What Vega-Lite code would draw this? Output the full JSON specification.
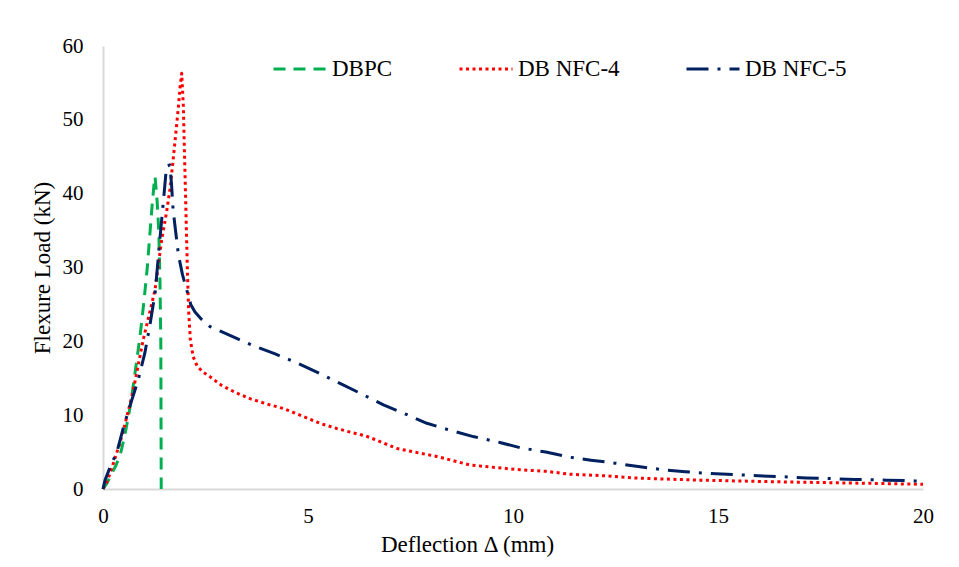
{
  "$schema": "https://vega.github.io/schema/vega-lite/v6.json",
  "width": 820,
  "height": 443,
  "autosize": {"type": "none"},
  "padding": {"left": 103, "top": 46, "right": 36, "bottom": 78},
  "background": "white",
  "config": {
    "view": {"stroke": null},
    "font": "Liberation Serif",
    "legend": {"labelFont": "Liberation Serif", "labelFontSize": 23, "labelColor": "#000000"}
  },
  "data": {
    "values": [
      {"series": "DBPC", "x": 0, "y": 0},
      {"series": "DBPC", "x": 0.1, "y": 0.8},
      {"series": "DBPC", "x": 0.2, "y": 2},
      {"series": "DBPC", "x": 0.3, "y": 3},
      {"series": "DBPC", "x": 0.42, "y": 4.6},
      {"series": "DBPC", "x": 0.52, "y": 7},
      {"series": "DBPC", "x": 0.62, "y": 9.8},
      {"series": "DBPC", "x": 0.7, "y": 12.5},
      {"series": "DBPC", "x": 0.78, "y": 15.7},
      {"series": "DBPC", "x": 0.85, "y": 18.5},
      {"series": "DBPC", "x": 0.92, "y": 21.5},
      {"series": "DBPC", "x": 1.0, "y": 25.5},
      {"series": "DBPC", "x": 1.08, "y": 30},
      {"series": "DBPC", "x": 1.15, "y": 35},
      {"series": "DBPC", "x": 1.2, "y": 38.5},
      {"series": "DBPC", "x": 1.24, "y": 41},
      {"series": "DBPC", "x": 1.27, "y": 42.3},
      {"series": "DBPC", "x": 1.32, "y": 39},
      {"series": "DBPC", "x": 1.36, "y": 35},
      {"series": "DBPC", "x": 1.39, "y": 28},
      {"series": "DBPC", "x": 1.41, "y": 20},
      {"series": "DBPC", "x": 1.42, "y": 0},

      {"series": "DB NFC-4", "x": 0, "y": 0},
      {"series": "DB NFC-4", "x": 0.1, "y": 1},
      {"series": "DB NFC-4", "x": 0.2, "y": 2.6},
      {"series": "DB NFC-4", "x": 0.3, "y": 4.3},
      {"series": "DB NFC-4", "x": 0.4, "y": 6},
      {"series": "DB NFC-4", "x": 0.5, "y": 8},
      {"series": "DB NFC-4", "x": 0.6, "y": 10.2},
      {"series": "DB NFC-4", "x": 0.74, "y": 13.4},
      {"series": "DB NFC-4", "x": 0.86, "y": 16.8},
      {"series": "DB NFC-4", "x": 0.98, "y": 20.2},
      {"series": "DB NFC-4", "x": 1.1, "y": 23},
      {"series": "DB NFC-4", "x": 1.27, "y": 27},
      {"series": "DB NFC-4", "x": 1.43, "y": 33.7},
      {"series": "DB NFC-4", "x": 1.55, "y": 37.5},
      {"series": "DB NFC-4", "x": 1.63, "y": 40.5},
      {"series": "DB NFC-4", "x": 1.7, "y": 44},
      {"series": "DB NFC-4", "x": 1.76, "y": 47.3},
      {"series": "DB NFC-4", "x": 1.84, "y": 51.8},
      {"series": "DB NFC-4", "x": 1.88, "y": 54.5},
      {"series": "DB NFC-4", "x": 1.92, "y": 56.3},
      {"series": "DB NFC-4", "x": 1.96, "y": 51.8},
      {"series": "DB NFC-4", "x": 1.98, "y": 47},
      {"series": "DB NFC-4", "x": 2.0, "y": 42.8},
      {"series": "DB NFC-4", "x": 2.03, "y": 36},
      {"series": "DB NFC-4", "x": 2.06, "y": 29.2},
      {"series": "DB NFC-4", "x": 2.09, "y": 24},
      {"series": "DB NFC-4", "x": 2.13, "y": 20.2},
      {"series": "DB NFC-4", "x": 2.2, "y": 17.9},
      {"series": "DB NFC-4", "x": 2.3, "y": 16.6},
      {"series": "DB NFC-4", "x": 2.45, "y": 15.8},
      {"series": "DB NFC-4", "x": 2.61, "y": 15.2},
      {"series": "DB NFC-4", "x": 2.9, "y": 14},
      {"series": "DB NFC-4", "x": 3.26, "y": 13},
      {"series": "DB NFC-4", "x": 3.6, "y": 12.2},
      {"series": "DB NFC-4", "x": 4.07, "y": 11.4},
      {"series": "DB NFC-4", "x": 4.4, "y": 10.9},
      {"series": "DB NFC-4", "x": 4.72, "y": 10.2},
      {"series": "DB NFC-4", "x": 5.29, "y": 8.9},
      {"series": "DB NFC-4", "x": 5.7, "y": 8.2},
      {"series": "DB NFC-4", "x": 6.1, "y": 7.6},
      {"series": "DB NFC-4", "x": 6.4, "y": 7.2},
      {"series": "DB NFC-4", "x": 6.68, "y": 6.6},
      {"series": "DB NFC-4", "x": 7.16, "y": 5.5},
      {"series": "DB NFC-4", "x": 7.6, "y": 5.0},
      {"series": "DB NFC-4", "x": 8.14, "y": 4.4},
      {"series": "DB NFC-4", "x": 8.5, "y": 3.9},
      {"series": "DB NFC-4", "x": 8.95, "y": 3.25},
      {"series": "DB NFC-4", "x": 9.6, "y": 2.9},
      {"series": "DB NFC-4", "x": 10.17, "y": 2.6},
      {"series": "DB NFC-4", "x": 10.8, "y": 2.4},
      {"series": "DB NFC-4", "x": 11.39, "y": 2.0},
      {"series": "DB NFC-4", "x": 12.2, "y": 1.8},
      {"series": "DB NFC-4", "x": 12.93, "y": 1.5},
      {"series": "DB NFC-4", "x": 13.7, "y": 1.35},
      {"series": "DB NFC-4", "x": 14.56, "y": 1.2},
      {"series": "DB NFC-4", "x": 15.4, "y": 1.1},
      {"series": "DB NFC-4", "x": 16.19, "y": 1.0},
      {"series": "DB NFC-4", "x": 17, "y": 0.92},
      {"series": "DB NFC-4", "x": 17.8, "y": 0.85},
      {"series": "DB NFC-4", "x": 18.9, "y": 0.75},
      {"series": "DB NFC-4", "x": 20, "y": 0.64},

      {"series": "DB NFC-5", "x": 0, "y": 0},
      {"series": "DB NFC-5", "x": 0.05, "y": 1.2},
      {"series": "DB NFC-5", "x": 0.21, "y": 3.5},
      {"series": "DB NFC-5", "x": 0.33, "y": 4.8},
      {"series": "DB NFC-5", "x": 0.5, "y": 8.4},
      {"series": "DB NFC-5", "x": 0.7, "y": 12},
      {"series": "DB NFC-5", "x": 0.86, "y": 14.8},
      {"series": "DB NFC-5", "x": 1.02, "y": 18.4},
      {"series": "DB NFC-5", "x": 1.15, "y": 22.4},
      {"series": "DB NFC-5", "x": 1.27, "y": 26.5},
      {"series": "DB NFC-5", "x": 1.35, "y": 31.5},
      {"series": "DB NFC-5", "x": 1.43, "y": 36.4},
      {"series": "DB NFC-5", "x": 1.49, "y": 40},
      {"series": "DB NFC-5", "x": 1.55, "y": 43.7},
      {"series": "DB NFC-5", "x": 1.63, "y": 43.9},
      {"series": "DB NFC-5", "x": 1.67, "y": 41.4},
      {"series": "DB NFC-5", "x": 1.71, "y": 37.8},
      {"series": "DB NFC-5", "x": 1.78, "y": 34.5},
      {"series": "DB NFC-5", "x": 1.84, "y": 31.7},
      {"series": "DB NFC-5", "x": 1.94, "y": 29},
      {"series": "DB NFC-5", "x": 2.04, "y": 27},
      {"series": "DB NFC-5", "x": 2.14, "y": 25},
      {"series": "DB NFC-5", "x": 2.24, "y": 24},
      {"series": "DB NFC-5", "x": 2.4, "y": 23},
      {"series": "DB NFC-5", "x": 2.61, "y": 22},
      {"series": "DB NFC-5", "x": 2.89, "y": 21.3},
      {"series": "DB NFC-5", "x": 3.3, "y": 20.3},
      {"series": "DB NFC-5", "x": 3.67, "y": 19.4},
      {"series": "DB NFC-5", "x": 4.2, "y": 18.3},
      {"series": "DB NFC-5", "x": 4.76, "y": 17},
      {"series": "DB NFC-5", "x": 5.3, "y": 15.6},
      {"series": "DB NFC-5", "x": 5.78, "y": 14.3},
      {"series": "DB NFC-5", "x": 6.3, "y": 12.9},
      {"series": "DB NFC-5", "x": 6.84, "y": 11.4},
      {"series": "DB NFC-5", "x": 7.4, "y": 10.1},
      {"series": "DB NFC-5", "x": 7.9, "y": 8.9},
      {"series": "DB NFC-5", "x": 8.5, "y": 7.9},
      {"series": "DB NFC-5", "x": 9.03, "y": 7.1},
      {"series": "DB NFC-5", "x": 9.68, "y": 6.3},
      {"series": "DB NFC-5", "x": 10.17, "y": 5.6},
      {"series": "DB NFC-5", "x": 10.8, "y": 5.0},
      {"series": "DB NFC-5", "x": 11.39, "y": 4.3},
      {"series": "DB NFC-5", "x": 11.9, "y": 3.9},
      {"series": "DB NFC-5", "x": 12.49, "y": 3.5},
      {"series": "DB NFC-5", "x": 13.1, "y": 3.0},
      {"series": "DB NFC-5", "x": 13.67, "y": 2.6},
      {"series": "DB NFC-5", "x": 14.2, "y": 2.35},
      {"series": "DB NFC-5", "x": 14.8, "y": 2.1},
      {"series": "DB NFC-5", "x": 15.4, "y": 1.95},
      {"series": "DB NFC-5", "x": 15.98, "y": 1.8},
      {"series": "DB NFC-5", "x": 16.6, "y": 1.65},
      {"series": "DB NFC-5", "x": 17.16, "y": 1.5},
      {"series": "DB NFC-5", "x": 17.8, "y": 1.4},
      {"series": "DB NFC-5", "x": 18.34, "y": 1.3},
      {"series": "DB NFC-5", "x": 19.1, "y": 1.2},
      {"series": "DB NFC-5", "x": 19.8, "y": 1.1},
      {"series": "DB NFC-5", "x": 20, "y": 1.05}
    ]
  },
  "mark": {"type": "line", "strokeWidth": 3, "strokeCap": "butt", "strokeJoin": "round"},
  "encoding": {
    "x": {
      "field": "x",
      "type": "quantitative",
      "scale": {"domain": [0, 20], "nice": false},
      "axis": {
        "title": "Deflection Δ (mm)",
        "values": [0, 5, 10, 15, 20],
        "grid": false,
        "ticks": false,
        "domainColor": "#d9d9d9",
        "domainWidth": 2,
        "labelFont": "Liberation Serif",
        "labelFontSize": 21,
        "labelColor": "#000000",
        "labelPadding": 16,
        "labelFlush": false,
        "titleFont": "Liberation Serif",
        "titleFontSize": 23,
        "titleFontWeight": "normal",
        "titleColor": "#000000",
        "titleX": 364,
        "titleY": 62,
        "titleAlign": "center",
        "titleBaseline": "alphabetic"
      }
    },
    "y": {
      "field": "y",
      "type": "quantitative",
      "scale": {"domain": [0, 60], "nice": false},
      "axis": {
        "title": "Flexure Load (kN)",
        "values": [0, 10, 20, 30, 40, 50, 60],
        "grid": false,
        "ticks": false,
        "domainColor": "#d9d9d9",
        "domainWidth": 2,
        "labelFont": "Liberation Serif",
        "labelFontSize": 21,
        "labelColor": "#000000",
        "labelPadding": 20,
        "labelFlush": false,
        "titleFont": "Liberation Serif",
        "titleFontSize": 23,
        "titleFontWeight": "normal",
        "titleColor": "#000000",
        "titleX": -61,
        "titleY": 221.5,
        "titleAlign": "center",
        "titleBaseline": "middle"
      }
    },
    "color": {
      "field": "series",
      "type": "nominal",
      "scale": {"domain": ["DBPC", "DB NFC-4", "DB NFC-5"], "range": ["#00B050", "#FF0000", "#002060"]},
      "legend": {
        "title": null,
        "orient": "none",
        "legendX": 169,
        "legendY": -5,
        "direction": "horizontal",
        "symbolType": "stroke",
        "symbolSize": 2809,
        "symbolStrokeWidth": 3,
        "labelFont": "Liberation Serif",
        "labelFontSize": 23,
        "labelColor": "#000000",
        "labelOffset": 4,
        "columnPadding": 60
      }
    },
    "strokeDash": {
      "field": "series",
      "type": "nominal",
      "scale": {"domain": ["DBPC", "DB NFC-4", "DB NFC-5"], "range": [[12, 8], [3, 3.5], [22, 9, 3, 9]]},
      "legend": {
        "title": null,
        "orient": "none",
        "legendX": 169,
        "legendY": -5,
        "direction": "horizontal",
        "symbolType": "stroke",
        "symbolSize": 2809,
        "symbolStrokeWidth": 3,
        "labelFont": "Liberation Serif",
        "labelFontSize": 23,
        "labelColor": "#000000",
        "labelOffset": 4,
        "columnPadding": 60
      }
    }
  }
}
